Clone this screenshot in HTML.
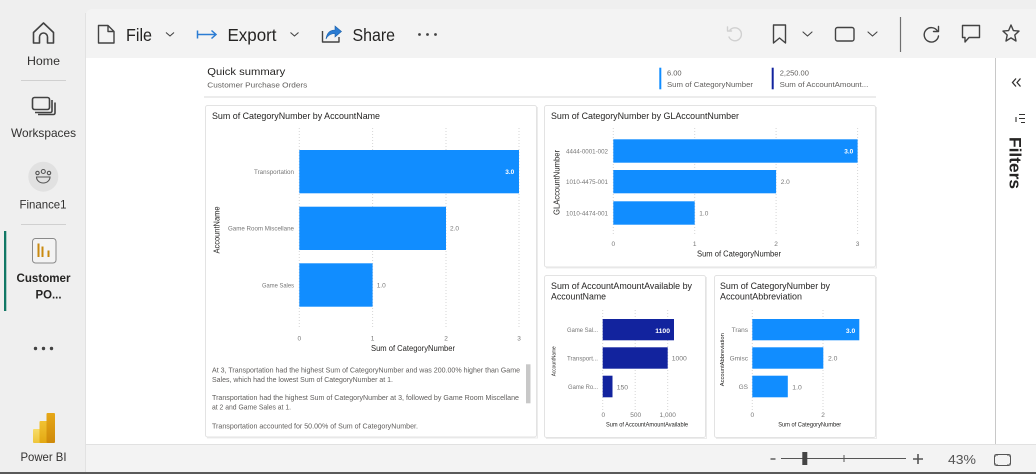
<!DOCTYPE html>
<html><head><meta charset="utf-8"><style>
html,body{margin:0;padding:0;width:1036px;height:474px;overflow:hidden;background:#efefef;}
svg{display:block;font-family:"Liberation Sans",sans-serif;}
</style></head><body>
<svg width="1036" height="474" viewBox="0 0 1036 474" xmlns="http://www.w3.org/2000/svg">
<defs>
<clipPath id="narr"><rect x="205" y="360" width="320" height="70"/></clipPath>
<linearGradient id="pb1" x1="0" y1="0" x2="0" y2="1"><stop offset="0" stop-color="#f7dc6a"/><stop offset="1" stop-color="#eec53a"/></linearGradient>
<linearGradient id="pb2" x1="0" y1="0" x2="0" y2="1"><stop offset="0" stop-color="#f1c232"/><stop offset="1" stop-color="#e3a812"/></linearGradient>
<linearGradient id="pb3" x1="0" y1="0" x2="0" y2="1"><stop offset="0" stop-color="#e6a817"/><stop offset="1" stop-color="#cf8a0a"/></linearGradient>
</defs>
<rect width="1036" height="474" fill="#efefef"/>

<!-- main panel -->
<path d="M86 15 a6 6 0 0 1 6 -6 H1036 V472 H86 Z" fill="#f3f3f3"/>
<line x1="85.5" y1="13" x2="85.5" y2="472" stroke="#e2e2e2"/>
<rect x="86" y="58" width="950" height="386" fill="#fff"/>
<line x1="86" y1="444.5" x2="1036" y2="444.5" stroke="#e1e1e1"/>
<line x1="995.5" y1="58" x2="995.5" y2="444" stroke="#c8c8c8"/>
<rect x="0" y="472" width="1036" height="2" fill="#5a5a5a"/>

<!-- toolbar left -->
<g fill="none" stroke="#424242" stroke-width="1.4" stroke-linejoin="round">
<path d="M98.5 25.5 H108 L114 31.5 V43 H98.5 Z M108 25.5 V31.5 H114"/>
<path d="M166 32.5 L170 36 L174 32.5" stroke-width="1.1"/>
<path d="M290.5 32.5 L294.5 36 L298.5 32.5" stroke-width="1.1"/>
<path d="M322.5 31 V42 H339 V37"/>
</g>
<g fill="none" stroke="#2b7cd3" stroke-width="1.5">
<path d="M197.5 30.5 V38.5 M197.5 34.5 H216 M211.5 30.5 L216 34.5 L211.5 38.5"/>
</g>
<path d="M326 39 C327 32 331 30 335 30 V26 L341.5 31.5 L335 37 V33.5 C331 33.5 328 35 326 39 Z" fill="#2b7cd3" stroke="#1a5fa8" stroke-width="0.6"/>
<g font-size="17.5" fill="#252423">
<text x="126" y="41" textLength="26" lengthAdjust="spacingAndGlyphs">File</text>
<text x="227.5" y="41" textLength="49" lengthAdjust="spacingAndGlyphs">Export</text>
<text x="352.5" y="41" textLength="42.5" lengthAdjust="spacingAndGlyphs">Share</text>
</g>
<g fill="#424242"><circle cx="419.5" cy="34.5" r="1.4"/><circle cx="427.5" cy="34.5" r="1.4"/><circle cx="435.5" cy="34.5" r="1.4"/></g>

<!-- toolbar right -->
<g fill="none" stroke="#424242" stroke-width="1.4" stroke-linejoin="round" stroke-linecap="round">
<path d="M730 30 A6.5 6.5 0 1 1 729 37" stroke="#d0d0d0"/>
<path d="M727.5 27 V31 H731.5" stroke="#d0d0d0"/>
<path d="M773.5 25 H785.5 V43 L779.5 38 L773.5 43 Z"/>
<path d="M803 32 L807.5 36 L812 32" stroke-width="1.1"/>
<rect x="835.5" y="27.5" width="18.5" height="13.5" rx="2"/>
<path d="M868 32 L872.5 36 L877 32" stroke-width="1.1"/>
<path d="M937.5 31 A7.2 7.2 0 1 0 938.5 36"/>
<path d="M938.5 26.5 V31.5 H933.5"/>
<path d="M962.5 25.5 H979.5 V37.5 H969 L965 42 V37.5 H962.5 Z"/>
<path d="M1011 25 L1013.4 30.6 L1019 31.1 L1014.8 35 L1016 41 L1011 37.9 L1006 41 L1007.2 35 L1003 31.1 L1008.6 30.6 Z"/>
</g>
<line x1="900.5" y1="17" x2="900.5" y2="52" stroke="#6e6e6e" stroke-width="1.2"/>

<!-- left nav -->
<g fill="none" stroke="#424242" stroke-width="1.6" stroke-linejoin="round">
<path d="M33.5 32.5 L43.5 23 L53.5 32.5 V43 H47.5 V37 A4 4 0 0 0 39.5 37 V43 H33.5 Z"/>
<rect x="32.5" y="97.5" width="17" height="12" rx="2"/>
<path d="M52 100 V111 A1.5 1.5 0 0 1 50.5 112.5 H35" />
<path d="M55 102.5 V113 A1.5 1.5 0 0 1 53.5 114.5 H38"/>
</g>
<line x1="21" y1="80.5" x2="66" y2="80.5" stroke="#d0d0d0"/>
<g font-size="12" fill="#323130" text-anchor="middle">
<text x="43.5" y="65" textLength="33" lengthAdjust="spacingAndGlyphs">Home</text>
<text x="43.5" y="137" textLength="65" lengthAdjust="spacingAndGlyphs">Workspaces</text>
<text x="43" y="208.5" textLength="47" lengthAdjust="spacingAndGlyphs">Finance1</text>
<text x="43.5" y="282" font-weight="bold" fill="#252423" textLength="54" lengthAdjust="spacingAndGlyphs">Customer</text>
<text x="48.5" y="298.5" font-weight="bold" fill="#252423" textLength="26" lengthAdjust="spacingAndGlyphs">PO...</text>
<text x="43.5" y="461" textLength="46" lengthAdjust="spacingAndGlyphs">Power BI</text>
</g>
<circle cx="43.3" cy="176.7" r="15" fill="#e1e1e1"/>
<g fill="none" stroke="#555" stroke-width="1.1">
<circle cx="43.3" cy="171.5" r="2"/><circle cx="37.5" cy="173" r="1.7"/><circle cx="49" cy="173" r="1.7"/>
<path d="M36.5 177 H50 A6.75 6 0 0 1 36.5 177 Z"/>
</g>
<line x1="21" y1="224.5" x2="66" y2="224.5" stroke="#d0d0d0"/>
<rect x="4" y="231" width="2.3" height="80" fill="#117865"/>
<rect x="32.5" y="238.5" width="23.5" height="24.5" rx="3" fill="#f3f3f3" stroke="#8a8a8a" stroke-width="1"/>
<g fill="#c98a10"><rect x="37.5" y="243.5" width="2" height="13.5"/><rect x="41.5" y="246.5" width="2" height="10.5"/><rect x="47.5" y="250.5" width="2" height="6.5"/></g>
<g fill="#424242"><circle cx="35.5" cy="348.5" r="1.7"/><circle cx="43.5" cy="348.5" r="1.7"/><circle cx="51.5" cy="348.5" r="1.7"/></g>
<rect x="33" y="429" width="8" height="14" rx="1" fill="url(#pb1)"/>
<rect x="39.5" y="421" width="8.5" height="22" rx="1" fill="url(#pb2)"/>
<rect x="46.5" y="413" width="8.5" height="30" rx="1" fill="url(#pb3)"/>

<!-- right pane -->
<g fill="none" stroke="#323130" stroke-width="1.3">
<path d="M1016 78.5 L1012.5 82.5 L1016 86.5 M1020.5 78.5 L1017 82.5 L1020.5 86.5"/>
<path d="M1019 114.5 H1025 M1019 118.5 H1025 M1021 122.5 H1025 M1016 117 V122" stroke-width="1.1"/>
</g>
<text transform="translate(1009.5,137) rotate(90)" font-size="16.5" font-weight="bold" fill="#252423" textLength="52" lengthAdjust="spacingAndGlyphs">Filters</text>

<!-- status bar -->
<g stroke="#555" fill="none">
<line x1="770.5" y1="459" x2="775.5" y2="459" stroke-width="1.4"/>
<line x1="781" y1="458.5" x2="906" y2="458.5" stroke-width="1"/>
<line x1="844" y1="455" x2="844" y2="462" stroke-width="1"/>
<path d="M913 459 H923 M918 454 V464" stroke-width="1.6"/>
<path d="M995 457 V455 H998 M1007 455 H1010 V457 M1010 463 V465 H1007 M998 465 H995 V463" stroke-width="1"/>
<rect x="994.5" y="454.5" width="16" height="11" rx="2" stroke-width="1"/>
</g>
<rect x="802.3" y="452" width="5" height="13" fill="#444"/>
<text x="948" y="464" font-size="13" fill="#555" textLength="28" lengthAdjust="spacingAndGlyphs">43%</text>

<!-- report header -->
<text x="207.3" y="75" font-size="10.5" fill="#252423" textLength="78" lengthAdjust="spacingAndGlyphs">Quick summary</text>
<text x="207.3" y="87.3" font-size="7.5" fill="#605e5c" textLength="100" lengthAdjust="spacingAndGlyphs">Customer Purchase Orders</text>
<rect x="659.3" y="67.7" width="2" height="21.6" fill="#118dff"/>
<rect x="771.7" y="67.7" width="2" height="21.6" fill="#12239e"/>
<g font-size="7.5" fill="#605e5c">
<text x="667" y="75.7">6.00</text>
<text x="667" y="87" textLength="86" lengthAdjust="spacingAndGlyphs">Sum of CategoryNumber</text>
<text x="779.7" y="75.7">2,250.00</text>
<text x="779.7" y="87" textLength="88.6" lengthAdjust="spacingAndGlyphs">Sum of AccountAmount...</text>
</g>
<line x1="204" y1="97" x2="876" y2="97" stroke="#e6e6e6" stroke-width="1.6"/>

<!-- cards -->
<g fill="#fff" stroke="#e3e3e3" stroke-width="1">
<rect x="205.5" y="105.5" width="331" height="331.5" rx="2"/>
<rect x="544.5" y="105.5" width="331" height="161.5" rx="2"/>
<rect x="544.5" y="275.5" width="161" height="162" rx="2"/>
<rect x="714.5" y="275.5" width="161" height="162" rx="2"/>
</g>
<g fill="none" stroke="#ececec" stroke-width="1">
<path d="M537.5 107 V438 H207"/>
<path d="M876.5 107 V268 H546"/>
<path d="M706.5 277 V438.5 H546"/>
<path d="M876.5 277 V438.5 H716"/>
</g>

<!-- card 1 -->
<text x="212" y="119" font-size="9.2" fill="#252423" textLength="168" lengthAdjust="spacingAndGlyphs">Sum of CategoryNumber by AccountName</text>
<g stroke="#d6d6d6" stroke-dasharray="1,2" stroke-width="1">
<line x1="299.3" y1="128" x2="299.3" y2="327"/><line x1="372.6" y1="128" x2="372.6" y2="327"/><line x1="446" y1="128" x2="446" y2="327"/><line x1="519" y1="128" x2="519" y2="327"/>
</g>
<g fill="#118dff">
<rect x="299.3" y="150" width="219.7" height="43.3"/>
<rect x="299.3" y="206.7" width="146.7" height="43.3"/>
<rect x="299.3" y="263.3" width="73.3" height="43.4"/>
</g>
<g font-size="6.5" fill="#777">
<text x="294" y="174" text-anchor="end" textLength="40" lengthAdjust="spacingAndGlyphs">Transportation</text>
<text x="294" y="230.6" text-anchor="end" textLength="66" lengthAdjust="spacingAndGlyphs">Game Room Miscellane</text>
<text x="294" y="287.3" text-anchor="end" textLength="32" lengthAdjust="spacingAndGlyphs">Game Sales</text>
<text x="450" y="230.6">2.0</text>
<text x="376.7" y="287.3">1.0</text>
<g text-anchor="middle"><text x="299.3" y="340.5">0</text><text x="372.6" y="340.5">1</text><text x="446" y="340.5">2</text><text x="519" y="340.5">3</text></g>
</g>
<text x="514.3" y="174" font-size="6.5" font-weight="bold" fill="#fff" text-anchor="end">3.0</text>
<text x="413" y="351" font-size="8" fill="#252423" text-anchor="middle" textLength="84" lengthAdjust="spacingAndGlyphs">Sum of CategoryNumber</text>
<text transform="translate(219.3,230) rotate(-90)" font-size="8" fill="#252423" text-anchor="middle" textLength="47" lengthAdjust="spacingAndGlyphs">AccountName</text>
<g clip-path="url(#narr)" font-size="7.2" fill="#605e5c">
<text x="212" y="372.5" textLength="308" lengthAdjust="spacingAndGlyphs">At 3, Transportation had the highest Sum of CategoryNumber and was 200.00% higher than Game</text>
<text x="212" y="382" textLength="181" lengthAdjust="spacingAndGlyphs">Sales, which had the lowest Sum of CategoryNumber at 1.</text>
<text x="212" y="400" textLength="307" lengthAdjust="spacingAndGlyphs">Transportation had the highest Sum of CategoryNumber at 3, followed by Game Room Miscellane</text>
<text x="212" y="409.5" textLength="79" lengthAdjust="spacingAndGlyphs">at 2 and Game Sales at 1.</text>
<text x="212" y="428.5" textLength="206" lengthAdjust="spacingAndGlyphs">Transportation accounted for 50.00% of Sum of CategoryNumber.</text>
</g>
<rect x="526" y="364.3" width="4.5" height="39" fill="#c8c8c8"/>

<!-- card 2 -->
<text x="551" y="119" font-size="9.2" fill="#252423" textLength="188" lengthAdjust="spacingAndGlyphs">Sum of CategoryNumber by GLAccountNumber</text>
<g stroke="#d6d6d6" stroke-dasharray="1,2" stroke-width="1">
<line x1="613.3" y1="128" x2="613.3" y2="235"/><line x1="694.7" y1="128" x2="694.7" y2="235"/><line x1="776.1" y1="128" x2="776.1" y2="235"/><line x1="857.6" y1="128" x2="857.6" y2="235"/>
</g>
<g fill="#118dff">
<rect x="613.3" y="139.3" width="244.3" height="23.4"/>
<rect x="613.3" y="170" width="162.8" height="23.3"/>
<rect x="613.3" y="201.3" width="81.4" height="23.4"/>
</g>
<g font-size="6.5" fill="#777">
<text x="608" y="153.3" text-anchor="end" textLength="42" lengthAdjust="spacingAndGlyphs">4444-0001-002</text>
<text x="608" y="184" text-anchor="end" textLength="42" lengthAdjust="spacingAndGlyphs">1010-4475-001</text>
<text x="608" y="215.3" text-anchor="end" textLength="42" lengthAdjust="spacingAndGlyphs">1010-4474-001</text>
<text x="780.7" y="184">2.0</text>
<text x="699.3" y="215.3">1.0</text>
<g text-anchor="middle"><text x="613.3" y="246">0</text><text x="694.7" y="246">1</text><text x="776.1" y="246">2</text><text x="857.6" y="246">3</text></g>
</g>
<text x="853.3" y="153.3" font-size="6.5" font-weight="bold" fill="#fff" text-anchor="end">3.0</text>
<text x="739" y="256.5" font-size="8" fill="#252423" text-anchor="middle" textLength="84" lengthAdjust="spacingAndGlyphs">Sum of CategoryNumber</text>
<text transform="translate(559.3,182.5) rotate(-90)" font-size="8.2" fill="#252423" text-anchor="middle" textLength="65" lengthAdjust="spacingAndGlyphs">GLAccountNumber</text>

<!-- card 3 -->
<text x="551" y="289" font-size="9" fill="#252423" textLength="141" lengthAdjust="spacingAndGlyphs">Sum of AccountAmountAvailable by</text>
<text x="551" y="299.5" font-size="9" fill="#252423" textLength="55" lengthAdjust="spacingAndGlyphs">AccountName</text>
<g stroke="#d6d6d6" stroke-dasharray="1,2" stroke-width="1">
<line x1="602.7" y1="310" x2="602.7" y2="410"/><line x1="635.2" y1="310" x2="635.2" y2="410"/><line x1="667.7" y1="310" x2="667.7" y2="410"/>
</g>
<g fill="#12239e">
<rect x="602.7" y="319" width="71.3" height="21.3"/>
<rect x="602.7" y="347.3" width="65" height="21.4"/>
<rect x="602.7" y="375.7" width="9.8" height="21.6"/>
</g>
<g font-size="6.5" fill="#777">
<text x="598" y="332" text-anchor="end" textLength="31" lengthAdjust="spacingAndGlyphs">Game Sal...</text>
<text x="598" y="360.3" text-anchor="end" textLength="31" lengthAdjust="spacingAndGlyphs">Transport...</text>
<text x="598" y="388.8" text-anchor="end" textLength="30" lengthAdjust="spacingAndGlyphs">Game Ro...</text>
<text x="671.7" y="360.5" font-size="6.8">1000</text>
<text x="616.7" y="389.5" font-size="6.8">150</text>
<g text-anchor="middle"><text x="603.3" y="417">0</text><text x="635.7" y="417">500</text><text x="667.7" y="417">1,000</text></g>
</g>
<text x="670" y="333" font-size="6.8" font-weight="bold" fill="#fff" text-anchor="end">1100</text>
<text x="647" y="426.5" font-size="6" fill="#252423" text-anchor="middle" textLength="82" lengthAdjust="spacingAndGlyphs">Sum of AccountAmountAvailable</text>
<text transform="translate(555.3,361.3) rotate(-90)" font-size="5.6" fill="#252423" text-anchor="middle" textLength="30" lengthAdjust="spacingAndGlyphs">AccountName</text>

<!-- card 4 -->
<text x="720" y="289" font-size="9" fill="#252423" textLength="110" lengthAdjust="spacingAndGlyphs">Sum of CategoryNumber by</text>
<text x="720" y="299.5" font-size="9" fill="#252423" textLength="82" lengthAdjust="spacingAndGlyphs">AccountAbbreviation</text>
<g stroke="#d6d6d6" stroke-dasharray="1,2" stroke-width="1">
<line x1="752.3" y1="310" x2="752.3" y2="410"/><line x1="823" y1="310" x2="823" y2="410"/>
</g>
<g fill="#118dff">
<rect x="752.3" y="319" width="107" height="21.3"/>
<rect x="752.3" y="347.3" width="71" height="21.4"/>
<rect x="752.3" y="375.7" width="35.5" height="21.6"/>
</g>
<g font-size="6.5" fill="#777">
<text x="748" y="332" text-anchor="end">Trans</text>
<text x="748" y="360.3" text-anchor="end">Gmisc</text>
<text x="748" y="388.8" text-anchor="end">GS</text>
<text x="828" y="360.5" font-size="6.8">2.0</text>
<text x="792.3" y="389.5" font-size="6.8">1.0</text>
<g text-anchor="middle"><text x="752.3" y="417">0</text><text x="823" y="417">2</text></g>
</g>
<text x="855.3" y="333" font-size="6.8" font-weight="bold" fill="#fff" text-anchor="end">3.0</text>
<text x="809.7" y="426.5" font-size="6" fill="#252423" text-anchor="middle" textLength="63" lengthAdjust="spacingAndGlyphs">Sum of CategoryNumber</text>
<text transform="translate(724.2,359.7) rotate(-90)" font-size="5.8" fill="#252423" text-anchor="middle" textLength="53" lengthAdjust="spacingAndGlyphs">AccountAbbreviation</text>
</svg>
</body></html>
